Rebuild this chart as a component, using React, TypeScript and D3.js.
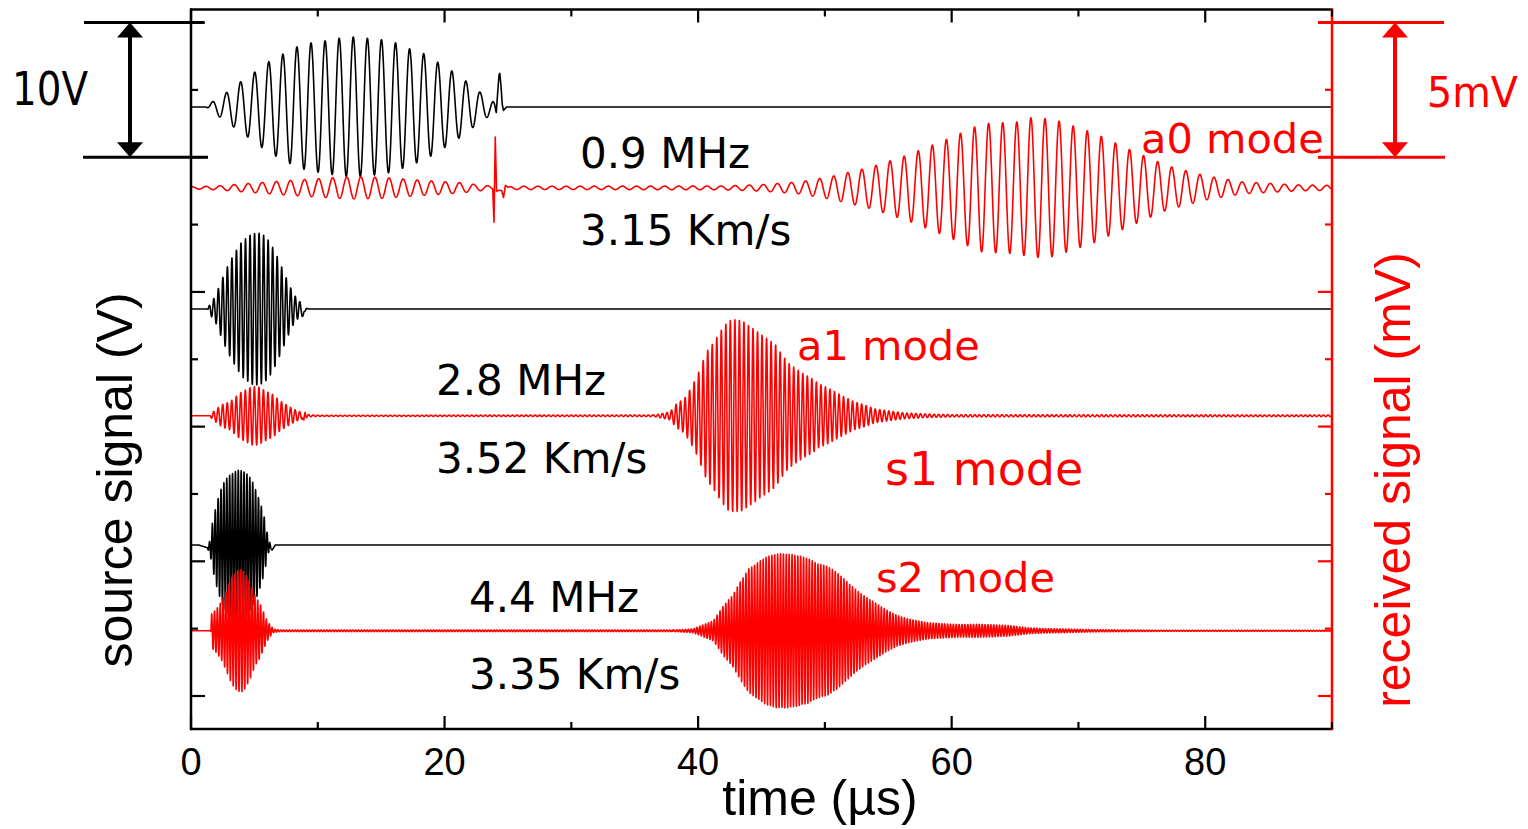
import React, { useMemo } from "react";
import * as d3 from "d3";

const W = 1528;
const H = 829;

// ---- axis ticks ----
const timeTicks = [0, 10, 20, 30, 40, 50, 60, 70, 80, 90];
const timeLabels = [0, 20, 40, 60, 80];
const sourceTicks = [0, 5, 10, 15, 20, 25, 30, 35, 40, 45, 50];
const receivedTicks = [0, 2.5, 5, 7.5, 10, 12.5, 15, 17.5, 20, 22.5, 25];

// ---- carrier frequencies (MHz) ----
const freqs = [0.9, 2.8, 4.4];

// ---- trace baselines ----
const sourceBaselines = [43.73, 28.73, 11.21]; // V
const receivedBaselines = [18.86, 10.4, 2.42]; // mV

// ---- envelopes [time (µs), amplitude] ----
// source 0.9 MHz (V)
const src09Env: [number, number][] = [
  [1.2, 0], [1.7, 0.4], [2.7, 1.0], [3.8, 1.8], [4.9, 2.5], [6.0, 3.3], [7.2, 3.9], [8.3, 4.45],
  [9.4, 4.75], [10.5, 4.9], [11.6, 5.1], [12.8, 5.2], [13.9, 5.1], [15.0, 5.0], [16.2, 4.75],
  [17.3, 4.3], [18.4, 3.95], [19.5, 3.3], [20.7, 2.6], [21.8, 1.85], [22.8, 1.1], [23.8, 0.5], [24.05, 0],
];
const src09Extra: [number, number][] = [
  [23.95, 0], [24.08, -0.4], [24.2, 1.2], [24.3, 2.4], [24.36, 2.5], [24.45, 1.6], [24.55, 0.2],
  [24.65, -0.25], [24.9, 0],
];
// received 0.9 MHz (mV): crosstalk, then a0 mode
const rec09CrossEnv: [number, number][] = [
  [0, 0.04], [2, 0.07], [4.7, 0.17], [8, 0.28], [11, 0.37], [13, 0.41], [15, 0.39], [18.2, 0.28],
  [21.3, 0.19], [22.7, 0.11], [23.8, 0.06], [24.5, 0],
];
const rec09ModeEnv: [number, number][] = [
  [24.5, 0], [25.5, 0.06], [42, 0.07], [45, 0.12], [48, 0.22], [50.4, 0.41], [53.7, 0.78], [56.6, 1.23],
  [59.5, 1.78], [62.4, 2.38], [65.4, 2.45], [66.2, 2.6], [68.0, 2.55], [71.2, 2.04], [74.1, 1.41],
  [77.0, 0.82], [80.0, 0.45], [82.9, 0.22], [87.3, 0.11], [90, 0.09],
];
const rec09Extra: [number, number][] = [
  [23.8, 0], [23.9, -1.23], [24.0, 1.93], [24.1, -0.1], [24.5, -0.1], [24.65, -0.35], [24.8, 0.1], [25, 0],
];
// source 2.8 MHz (V)
const src28Env: [number, number][] = [
  [1.3, 0], [1.6, 0.55], [1.9, 0.9], [2.4, 2.1], [2.8, 3.0], [3.2, 3.75], [3.6, 4.4], [4.0, 5.0],
  [4.4, 5.3], [4.8, 5.6], [5.3, 5.65], [5.8, 5.45], [6.2, 5.0], [6.6, 4.3], [6.9, 3.7], [7.3, 2.8],
  [7.7, 1.9], [8.1, 1.1], [8.4, 0.75], [8.8, 0.3], [9.0, 0],
];
const src28Extra: [number, number][] = [[8.7, 0], [8.85, -0.45], [9.1, 0.05], [9.3, 0]];
// received 2.8 MHz (mV): crosstalk, then a1 / s1 modes
const rec28CrossEnv: [number, number][] = [
  [1.5, 0], [1.63, 0.1], [2.0, 0.25], [2.42, 0.41], [3.08, 0.52], [3.87, 0.85], [4.79, 1.08], [5.3, 1.08],
  [5.84, 0.93], [6.5, 0.78], [7.0, 0.56], [7.8, 0.33], [8.34, 0.19], [8.87, 0.11], [9.3, 0.04], [10, 0.02],
  [36.5, 0.03],
];
const rec28ModeEnv: [number, number][] = [
  [36.5, 0.03], [37.0, 0.07], [37.8, 0.15], [38.3, 0.45], [38.9, 0.63], [39.4, 1.0], [39.9, 1.45],
  [40.3, 1.93], [40.7, 2.4], [41.1, 2.64], [41.5, 2.93], [41.9, 3.23], [42.4, 3.53], [42.9, 3.56],
  [43.5, 3.53], [44.0, 3.34], [44.5, 3.19], [45.0, 3.0], [45.6, 2.82], [46.1, 2.64], [46.6, 2.27],
  [47.1, 1.97], [47.7, 1.75], [48.3, 1.56], [48.9, 1.41], [49.5, 1.19], [50.2, 1.04], [50.8, 0.89],
  [51.5, 0.71], [52.3, 0.52], [53.1, 0.41], [53.9, 0.26], [54.9, 0.19], [56.2, 0.11], [57.8, 0.07],
  [60, 0.04], [90, 0.03],
];
const rec28Extra: [number, number][] = [[8.8, 0], [8.9, -0.25], [9.0, 0.1], [9.1, 0]];
// source 4.4 MHz (V)
const src44Env: [number, number][] = [
  [1.3, 0], [1.5, 0.6], [1.76, 2.0], [2.03, 3.1], [2.29, 3.95], [2.55, 4.6], [2.94, 5.1], [3.34, 5.4],
  [3.73, 5.55], [4.13, 5.5], [4.52, 5.2], [4.92, 4.6], [5.31, 3.55], [5.58, 2.8], [5.84, 1.85],
  [6.0, 0.95], [6.24, 0.15], [6.4, 0],
];
const src44Extra: [number, number][] = [
  [0.6, 0], [1.45, -0.25], [1.6, 0], [6.2, 0], [6.4, -0.37], [6.65, 0],
];
// received 4.4 MHz (mV): crosstalk, then s2 mode
const rec44CrossEnv: [number, number][] = [
  [1.55, 0], [1.63, 0.63], [2.03, 0.82], [2.42, 1.1], [2.8, 1.5], [3.21, 1.98], [3.5, 2.15], [3.73, 2.25],
  [4.0, 2.27], [4.25, 2.15], [4.66, 1.8], [5.05, 1.3], [5.45, 1.0], [5.7, 0.72], [5.97, 0.41], [6.2, 0.24],
  [6.5, 0.07], [7, 0.03], [38, 0.03],
];
const rec44ModeEnv: [number, number][] = [
  [38.0, 0.03], [38.6, 0.04], [39.6, 0.07], [40.4, 0.22], [41.2, 0.37], [42.0, 0.93], [42.7, 1.3],
  [43.3, 1.8], [44.0, 2.3], [44.6, 2.5], [45.4, 2.75], [46.2, 2.86], [47.0, 2.86], [47.8, 2.8],
  [48.6, 2.7], [49.4, 2.5], [50.2, 2.4], [51.0, 2.15], [51.8, 1.8], [52.5, 1.5], [53.3, 1.23],
  [54.1, 1.0], [54.9, 0.76], [55.7, 0.57], [56.5, 0.45], [57.3, 0.37], [58.1, 0.3], [59.4, 0.26],
  [60.7, 0.23], [62.0, 0.24], [63.3, 0.22], [64.6, 0.19], [66.0, 0.11], [67.3, 0.08], [68.6, 0.07],
  [71.2, 0.04], [76.5, 0.02], [90, 0.02],
];

// ---- phase reference times (µs) of a crest ----
const src09Ref = 12.8, rec09CrossRef = 13.4, rec09ModeRef = 66.25;
const src28Ref = 5.37, rec28CrossRef = 5.0, rec28ModeRef = 42.9;
const src44Ref = 3.73, rec44CrossRef = 3.9, rec44ModeRef = 46.5;

// ---- labels ----
const freqLabels = ["0.9 MHz", "2.8 MHz", "4.4 MHz"];
const speedLabels = ["3.15 Km/s", "3.52 Km/s", "3.35 Km/s"];

type Packet = { f: number; ref: number; env: [number, number][] };
type Trace = { axis: "L" | "R"; color: string; base: number; packets: Packet[]; extra: [number, number][] };

const traces: Trace[] = [
  { axis: "L", color: "#000", base: sourceBaselines[0], packets: [{ f: freqs[0], ref: src09Ref, env: src09Env }], extra: src09Extra },
  { axis: "R", color: "#ff0000", base: receivedBaselines[0], packets: [{ f: freqs[0], ref: rec09CrossRef, env: rec09CrossEnv }, { f: freqs[0], ref: rec09ModeRef, env: rec09ModeEnv }], extra: rec09Extra },
  { axis: "L", color: "#000", base: sourceBaselines[1], packets: [{ f: freqs[1], ref: src28Ref, env: src28Env }], extra: src28Extra },
  { axis: "R", color: "#ff0000", base: receivedBaselines[1], packets: [{ f: freqs[1], ref: rec28CrossRef, env: rec28CrossEnv }, { f: freqs[1], ref: rec28ModeRef, env: rec28ModeEnv }], extra: rec28Extra },
  { axis: "L", color: "#000", base: sourceBaselines[2], packets: [{ f: freqs[2], ref: src44Ref, env: src44Env }], extra: src44Extra },
  { axis: "R", color: "#ff0000", base: receivedBaselines[2], packets: [{ f: freqs[2], ref: rec44CrossRef, env: rec44CrossEnv }, { f: freqs[2], ref: rec44ModeRef, env: rec44ModeEnv }], extra: [] },
];

function piecewise(pts: [number, number][]) {
  if (!pts.length) return (_t: number) => 0;
  const s = d3.scaleLinear().domain(pts.map((p) => p[0])).range(pts.map((p) => p[1]));
  const t0 = pts[0][0], t1 = pts[pts.length - 1][0];
  return (t: number) => (t < t0 || t > t1 ? 0 : s(t));
}

const PL = 191, PR = 1332, PT = 9.5, PB = 729;

export default function App() {
  const x = d3.scaleLinear().domain([0, 90]).range([PL, PR]);
  const yL = d3.scaleLinear().domain([-2.45, 50.97]).range([PB, PT]);
  const yR = d3.scaleLinear().domain([-1.225, 25.48]).range([PB, PT]);

  const paths = useMemo(() => {
    const times = d3.range(0, 90.0001, 0.01);
    return traces.map((tr) => {
      const envs = tr.packets.map((p) => ({ p, e: piecewise(p.env) }));
      const ex = piecewise(tr.extra);
      const y = tr.axis === "L" ? yL : yR;
      const pts: [number, number][] = times.map((t) => {
        let v = tr.base + ex(t);
        for (const { p, e } of envs) v += e(t) * Math.cos(2 * Math.PI * p.f * (t - p.ref));
        return [t, v];
      });
      const line = d3.line<[number, number]>().x((d) => x(d[0])).y((d) => y(d[1]));
      return { d: line(pts) || "", color: tr.color };
    });
  }, []);

  const annFont = "'DejaVu Sans', Verdana, sans-serif";
  const axFont = "'Liberation Sans', Arial, sans-serif";
  const red = "#ff0000";

  const arrow = (cx: number, yTop: number, yBot: number, color: string) => {
    const hw = 13, hh = 15;
    return (
      <g fill={color} stroke="none">
        <line x1={cx} x2={cx} y1={yTop + hh - 1} y2={yBot - hh + 1} stroke={color} strokeWidth={4} />
        <polygon points={`${cx},${yTop} ${cx - hw},${yTop + hh} ${cx + hw},${yTop + hh}`} />
        <polygon points={`${cx},${yBot} ${cx - hw},${yBot - hh} ${cx + hw},${yBot - hh}`} />
      </g>
    );
  };

  return (
    <svg width={W} height={H} style={{ position: "absolute", left: 0, top: 0, background: "#fff" }}>
      <rect x={0} y={0} width={W} height={H} fill="#fff" />
      {/* traces */}
      {paths.map((p, i) => (
        <path key={i} d={p.d} fill="none" stroke={p.color} strokeWidth={1.6} strokeLinejoin="round" />
      ))}

      {/* frame */}
      <line x1={PL} x2={PR} y1={PT} y2={PT} stroke="#000" strokeWidth={2.5} />
      <line x1={PL} x2={PR} y1={PB} y2={PB} stroke="#000" strokeWidth={2.5} />
      <line x1={PL} x2={PL} y1={PT - 1.2} y2={PB + 1.2} stroke="#000" strokeWidth={2.5} />
      <line x1={PR} x2={PR} y1={PT - 1.2} y2={PB + 1.2} stroke={red} strokeWidth={2.5} />

      {/* x ticks */}
      {timeTicks.map((t) => {
        const len = t % 20 === 0 ? 13 : 7;
        return (
          <g key={t}>
            <line x1={x(t)} x2={x(t)} y1={PB} y2={PB - len} stroke="#000" strokeWidth={2.2} />
            <line x1={x(t)} x2={x(t)} y1={PT} y2={PT + len} stroke="#000" strokeWidth={2.2} />
          </g>
        );
      })}
      {timeLabels.map((t) => (
        <text key={t} x={x(t)} y={775} textAnchor="middle" fontFamily={axFont} fontSize={38} fill="#000">
          {t}
        </text>
      ))}

      {/* left ticks */}
      {sourceTicks.map((v) => {
        const len = v % 10 === 0 ? 14 : 7;
        return <line key={v} x1={PL} x2={PL + len} y1={yL(v)} y2={yL(v)} stroke="#000" strokeWidth={2.2} />;
      })}
      {/* right ticks */}
      {receivedTicks.map((v) => {
        const len = v % 5 === 0 ? 14 : 7;
        return <line key={v} x1={PR} x2={PR - len} y1={yR(v)} y2={yR(v)} stroke={red} strokeWidth={2.2} />;
      })}

      {/* axis titles */}
      <text x={820} y={815} textAnchor="middle" fontFamily={axFont} fontSize={50} fill="#000">
        time (µs)
      </text>
      <text transform="translate(131.5,480) rotate(-90)" textAnchor="middle" fontFamily={axFont} fontSize={50} fill="#000">
        source signal (V)
      </text>
      <text transform="translate(1410,480) rotate(-90)" textAnchor="middle" fontFamily={axFont} fontSize={50} fill={red}>
        received signal (mV)
      </text>

      {/* 10V scale bar */}
      <line x1={84} x2={204} y1={yL(50)} y2={yL(50)} stroke="#000" strokeWidth={3} />
      <line x1={83} x2={208} y1={yL(40)} y2={yL(40)} stroke="#000" strokeWidth={3} />
      {arrow(130, yL(50), yL(40), "#000")}
      <text x={12} y={105} fontFamily={annFont} fontSize={46} textLength={76} lengthAdjust="spacingAndGlyphs" fill="#000">10V</text>

      {/* 5mV scale bar */}
      <line x1={1318} x2={1444} y1={yR(25)} y2={yR(25)} stroke={red} strokeWidth={3} />
      <line x1={1318} x2={1445} y1={yR(20)} y2={yR(20)} stroke={red} strokeWidth={3} />
      {arrow(1395, yR(25), yR(20), red)}
      <text x={1427} y={107} fontFamily={annFont} fontSize={43} textLength={91} lengthAdjust="spacingAndGlyphs" fill={red}>5mV</text>

      {/* frequency / speed labels */}
      <text x={580} y={168} fontFamily={annFont} fontSize={42} fill="#000">{freqLabels[0]}</text>
      <text x={580} y={245} fontFamily={annFont} fontSize={42} fill="#000">{speedLabels[0]}</text>
      <text x={436} y={395} fontFamily={annFont} fontSize={42} fill="#000">{freqLabels[1]}</text>
      <text x={436} y={473} fontFamily={annFont} fontSize={42} fill="#000">{speedLabels[1]}</text>
      <text x={469} y={612} fontFamily={annFont} fontSize={42} fill="#000">{freqLabels[2]}</text>
      <text x={469} y={689} fontFamily={annFont} fontSize={42} fill="#000">{speedLabels[2]}</text>

      {/* mode labels */}
      <text x={1141} y={153} fontFamily={annFont} fontSize={41.5} fill={red}>a0 mode</text>
      <text x={797} y={360} fontFamily={annFont} fontSize={41.5} fill={red}>a1 mode</text>
      <text x={885} y={485} fontFamily={annFont} fontSize={46} fill={red}>s1 mode</text>
      <text x={876} y={592} fontFamily={annFont} fontSize={41.5} fill={red}>s2 mode</text>
    </svg>
  );
}
